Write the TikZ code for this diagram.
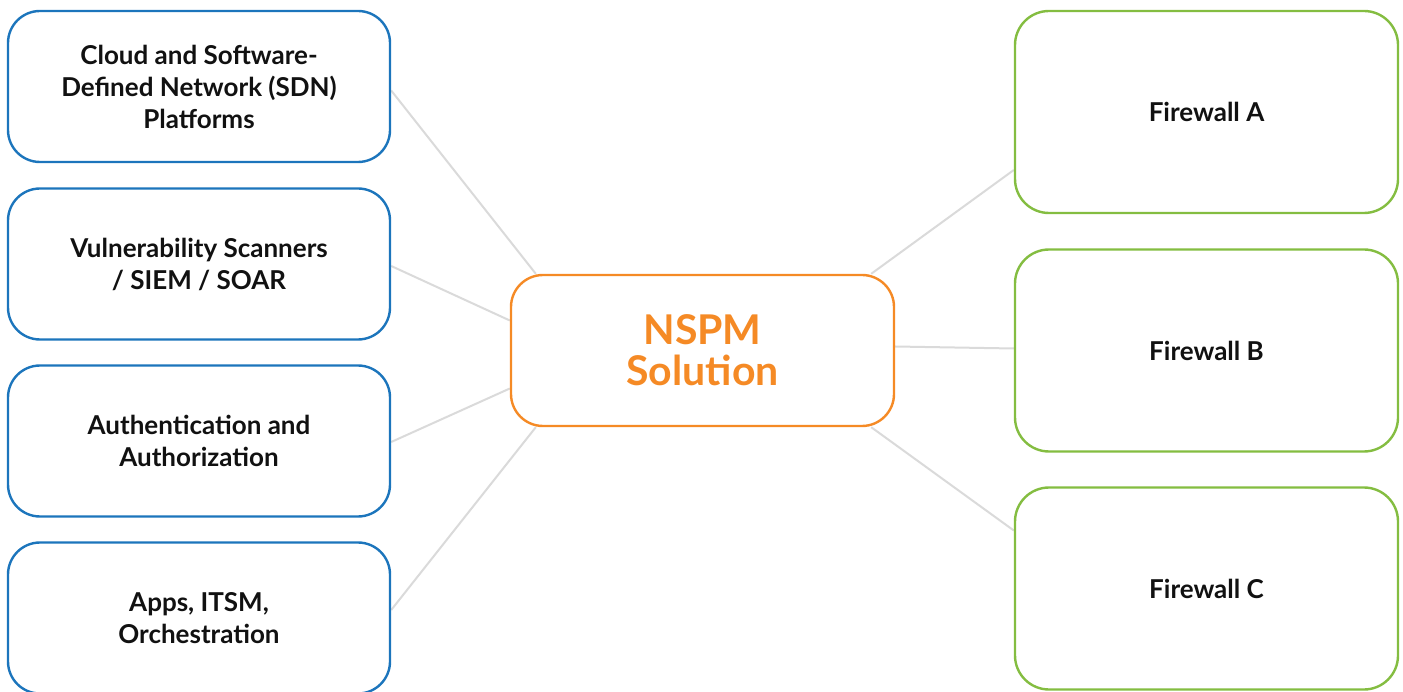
\documentclass[tikz,border=0pt]{standalone}
\usepackage{fontspec}
\setmainfont{Lato}
\usetikzlibrary{backgrounds}
\definecolor{bluec}{HTML}{1C75BC}
\definecolor{orangec}{HTML}{F58A25}
\definecolor{greenc}{HTML}{84BD41}
\definecolor{linec}{HTML}{DADADA}
\definecolor{textc}{HTML}{111111}
\tikzset{
  srcbox/.style={draw=bluec, line width=2.4pt, rounded corners=32pt, fill=white,
    minimum width=382pt, minimum height=151pt, inner sep=0pt, align=center,
    font=\fontsize{26}{32}\selectfont\bfseries, text=textc},
  fwbox/.style={draw=greenc, line width=2.4pt, rounded corners=34pt, fill=white,
    minimum width=383pt, minimum height=202pt, inner sep=0pt, align=center,
    font=\fontsize{26}{32}\selectfont\bfseries, text=textc},
  corebox/.style={draw=orangec, line width=2.4pt, rounded corners=32pt, fill=white,
    minimum width=383pt, minimum height=151pt, inner sep=0pt, align=center,
    font=\fontsize{41}{41}\selectfont\bfseries, text=orangec},
  link/.style={draw=linec, line width=2pt}
}
\begin{document}
\begin{tikzpicture}[x=1pt,y=-1pt]
\useasboundingbox (0,0) rectangle (1403,692);
\node[srcbox] (b1) at (199,86.5) {Cloud and Software-\\Defined Network (SDN)\\Platforms};
\node[srcbox] (b2) at (199,264) {Vulnerability Scanners\\/ SIEM / SOAR};
\node[srcbox] (b3) at (199,441) {Authentication and\\Authorization};
\node[srcbox] (b4) at (199,618) {Apps, ITSM,\\Orchestration};
\node[corebox] (c) at (702.5,350.5) {NSPM\\Solution};
\node[fwbox] (fa) at (1206.5,112) {Firewall A};
\node[fwbox] (fb) at (1206.5,350.5) {Firewall B};
\node[fwbox] (fc) at (1206.5,588.5) {Firewall C};
\begin{scope}[on background layer]
\draw[link] ([yshift=-4pt]b1.east) -- ([xshift=26pt]c.north west);
\draw[link] ([yshift=-2pt]b2.east) -- ([yshift=30pt]c.west);
\draw[link] ([yshift=-1pt]b3.east) -- ([yshift=-38pt]c.west);
\draw[link] ([yshift=8pt]b4.east) -- ([xshift=26pt]c.south west);
\draw[link] ([xshift=-24pt]c.north east) -- ([yshift=-58pt]fa.west);
\draw[link] ([yshift=4pt]c.east) -- ([yshift=2pt]fb.west);
\draw[link] ([xshift=-24pt]c.south east) -- ([yshift=58pt]fc.west);
\end{scope}
\end{tikzpicture}
\end{document}
